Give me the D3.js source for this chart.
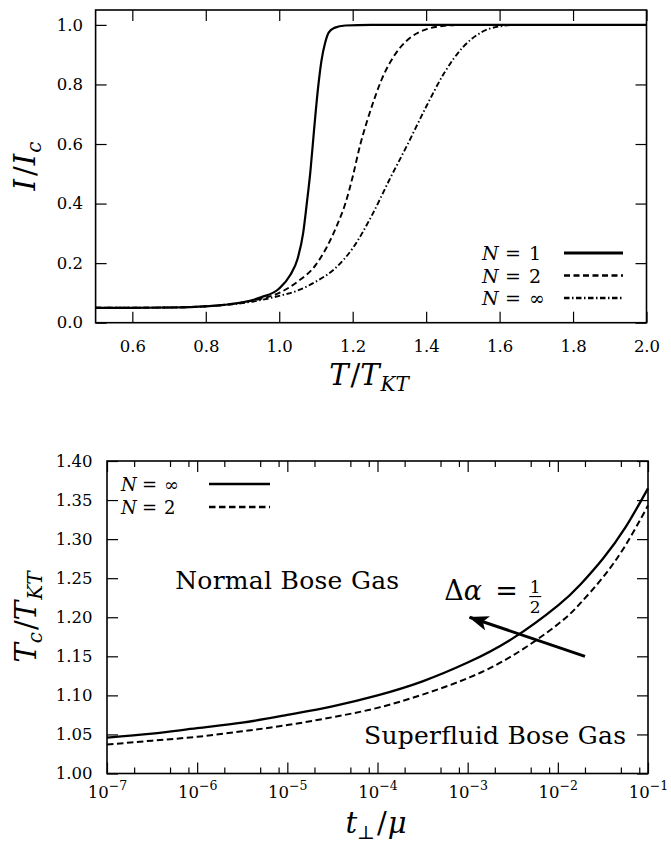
<!DOCTYPE html>
<html>
<head>
<meta charset="utf-8">
<script src="https://cdn.jsdelivr.net/npm/d3@7"></script>
<style>
  body { margin: 0; background: #fff; }
  svg text { font-family: "DejaVu Serif", "Liberation Serif", "Noto Serif", serif; fill: #000; }
</style>
</head>
<body>
<svg id="chart" width="671" height="846"></svg>
<script>

// ---- top panel data: I/Ic against T/TKT
const n1T = [0.5, 0.6, 0.7, 0.8, 0.85, 0.9, 0.95, 1.0, 1.03, 1.05, 1.065, 1.075, 1.085, 1.095, 1.105, 1.115, 1.125, 1.135, 1.15, 1.18, 1.25, 2.0];
const n1I = [0.050, 0.050, 0.051, 0.055, 0.060, 0.068, 0.085, 0.115, 0.16, 0.215, 0.30, 0.40, 0.51, 0.65, 0.78, 0.88, 0.94, 0.975, 0.99, 0.998, 1.0, 1.0];

const n2T = [0.5, 0.7, 0.8, 0.9, 0.95, 1.0, 1.05, 1.10, 1.13, 1.16, 1.18, 1.20, 1.22, 1.24, 1.26, 1.28, 1.30, 1.33, 1.36, 1.40, 1.45, 1.50, 2.0];
const n2I = [0.050, 0.051, 0.055, 0.068, 0.080, 0.100, 0.138, 0.195, 0.255, 0.335, 0.40, 0.49, 0.595, 0.68, 0.755, 0.82, 0.87, 0.925, 0.96, 0.985, 0.997, 1.0, 1.0];

const ninfT = [0.5, 0.7, 0.8, 0.9, 0.95, 1.0, 1.05, 1.10, 1.15, 1.20, 1.25, 1.30, 1.35, 1.40, 1.45, 1.50, 1.55, 1.60, 1.65, 2.0];
const ninfI = [0.050, 0.051, 0.055, 0.066, 0.076, 0.090, 0.108, 0.138, 0.180, 0.250, 0.355, 0.48, 0.60, 0.725, 0.84, 0.925, 0.975, 0.995, 1.0, 1.0];

const topXTicks = [0.6, 0.8, 1.0, 1.2, 1.4, 1.6, 1.8, 2.0];
const topYTicks = [0.0, 0.2, 0.4, 0.6, 0.8, 1.0];
const topLegend = ["1", "2", "∞"];

// ---- bottom panel data: Tc/TKT against t_perp/mu
const tPerp = [1e-7, 3.16e-7, 1e-6, 3.16e-6, 1e-5, 3.16e-5, 1e-4, 3.16e-4, 1e-3, 3.16e-3, 1e-2, 1.78e-2, 3.16e-2, 5.62e-2, 1e-1];
const tcInf = [1.046, 1.051, 1.058, 1.065, 1.075, 1.086, 1.100, 1.118, 1.142, 1.173, 1.215, 1.242, 1.275, 1.315, 1.365];
const tc2   = [1.037, 1.042, 1.047, 1.054, 1.062, 1.072, 1.084, 1.101, 1.122, 1.151, 1.191, 1.218, 1.251, 1.292, 1.343];

const botMajor = [1e-7, 1e-6, 1e-5, 1e-4, 1e-3, 1e-2, 1e-1];
const botMinorMult = [2, 5, 8];
const botYTicks = [1.00, 1.05, 1.10, 1.15, 1.20, 1.25, 1.30, 1.35, 1.40];
const botLegend = ["∞", "2"];

const serif = '"DejaVu Serif", "Liberation Serif", "Noto Serif", serif';
const svg = d3.select("#chart").attr("font-family", serif);

// scales
const xT = d3.scaleLinear().domain([0.5, 2.0]).range([95.6, 646.5]);
const yI = d3.scaleLinear().domain([0, 1.05]).range([322.7, 10]);
const xP = d3.scaleLog().domain([1e-7, 1e-1]).range([107, 648]);
const yC = d3.scaleLinear().domain([1.0, 1.4]).range([773.5, 461]);

const tickFont = 16.5;

function styleAxis(g) {
  g.select(".domain").remove();
  g.attr("font-family", serif).attr("font-size", tickFont);
  g.selectAll(".tick line").attr("stroke-width", 1.2);
}

function frame(x, y) {
  svg.append("rect")
    .attr("x", x.range()[0]).attr("y", y.range()[1])
    .attr("width", x.range()[1] - x.range()[0])
    .attr("height", y.range()[0] - y.range()[1])
    .attr("fill", "none").attr("stroke", "#000").attr("stroke-width", 1.6);
}

// "N = value" label with fixed glyph positions
function legendText(g, x, y, size, lab, gapEq, gapVal) {
  const t = g.append("text").attr("y", y).attr("font-size", size);
  t.append("tspan").attr("x", x).attr("font-style", "italic").text("N");
  t.append("tspan").attr("x", x + gapEq).text("=");
  t.append("tspan").attr("x", x + gapVal).text(lab);
}

// ================= top panel =================
const gTop = svg.append("g");

gTop.append("g").attr("transform", `translate(0,${yI.range()[0]})`)
  .call(d3.axisBottom(xT).tickValues(topXTicks).tickSize(-11).tickPadding(18).tickFormat(d3.format(".1f")))
  .call(styleAxis);
gTop.append("g").attr("transform", `translate(0,${yI.range()[1]})`)
  .call(d3.axisTop(xT).tickValues(topXTicks).tickSize(-11).tickFormat(""))
  .call(styleAxis);
gTop.append("g").attr("transform", `translate(${xT.range()[0]},0)`)
  .call(d3.axisLeft(yI).tickValues(topYTicks).tickSize(-11).tickPadding(12.5).tickFormat(d3.format(".1f")))
  .call(styleAxis);
gTop.append("g").attr("transform", `translate(${xT.range()[1]},0)`)
  .call(d3.axisRight(yI).tickValues(topYTicks).tickSize(-11).tickFormat(""))
  .call(styleAxis);

const lineTop = d3.line().x(d => xT(d[0])).y(d => yI(d[1])).curve(d3.curveMonotoneX);
const topSeries = [
  {T: n1T, I: n1I, dash: null, w: 2.2},
  {T: n2T, I: n2I, dash: "6,3.5", w: 1.9},
  {T: ninfT, I: ninfI, dash: "5.5,2.5,1.5,2.5", w: 1.9}
];
topSeries.forEach(s => {
  gTop.append("path")
    .datum(d3.zip(s.T, s.I))
    .attr("d", lineTop)
    .attr("fill", "none").attr("stroke", "#000")
    .attr("stroke-width", s.w)
    .attr("stroke-dasharray", s.dash);
});
frame(xT, yI);

// legend (top)
topLegend.forEach((lab, i) => {
  const y = 253 + i * 22.5;
  legendText(gTop, 482, y + 7, 19, lab, 23, 47);
  gTop.append("line")
    .attr("x1", 564).attr("x2", 623).attr("y1", y).attr("y2", y)
    .attr("stroke", "#000").attr("stroke-width", topSeries[i].w + 0.6)
    .attr("stroke-dasharray", topSeries[i].dash);
});

// axis titles (top)
const xtTop = svg.append("text").attr("x", 369).attr("y", 385).attr("text-anchor", "middle").attr("font-size", 29);
xtTop.append("tspan").attr("font-style", "italic").text("T");
xtTop.append("tspan").attr("dx", 2).text("/");
xtTop.append("tspan").attr("font-style", "italic").text("T");
xtTop.append("tspan").attr("font-style", "italic").attr("font-size", 20).attr("dy", 6).attr("dx", 1).text("KT");

const ytTop = svg.append("text").attr("transform", "translate(35,166) rotate(-90)")
  .attr("text-anchor", "middle").attr("font-size", 29);
ytTop.append("tspan").attr("font-style", "italic").text("I");
ytTop.append("tspan").attr("dx", 3).text("/");
ytTop.append("tspan").attr("font-style", "italic").attr("dx", 1).text("I");
ytTop.append("tspan").attr("font-style", "italic").attr("font-size", 20).attr("dy", 6).attr("dx", 1).text("c");

// ================= bottom panel =================
const gBot = svg.append("g");
const minorTicks = botMajor.slice(0, -1).flatMap(d => botMinorMult.map(m => d * m));
const supLabel = d => "−" + Math.abs(Math.round(Math.log10(d)));

gBot.append("g").attr("transform", `translate(0,${yC.range()[0]})`)
  .call(d3.axisBottom(xP).tickValues(botMajor).tickSize(-11).tickPadding(10).tickFormat(""))
  .call(styleAxis)
  .call(g => g.selectAll(".tick text").each(function(d) {
    const t = d3.select(this).attr("dy", "0.88em");
    t.append("tspan").text("10");
    t.append("tspan").attr("font-size", 12.5).attr("dy", -8).text(supLabel(d));
  }));
gBot.append("g").attr("transform", `translate(0,${yC.range()[0]})`)
  .call(d3.axisBottom(xP).tickValues(minorTicks).tickSize(-6).tickFormat(""))
  .call(styleAxis);
gBot.append("g").attr("transform", `translate(0,${yC.range()[1]})`)
  .call(d3.axisTop(xP).tickValues(botMajor).tickSize(-11).tickFormat(""))
  .call(styleAxis);
gBot.append("g").attr("transform", `translate(0,${yC.range()[1]})`)
  .call(d3.axisTop(xP).tickValues(minorTicks).tickSize(-6).tickFormat(""))
  .call(styleAxis);
gBot.append("g").attr("transform", `translate(${xP.range()[0]},0)`)
  .call(d3.axisLeft(yC).tickValues(botYTicks).tickSize(-11).tickPadding(14.5).tickFormat(d3.format(".2f")))
  .call(styleAxis);
gBot.append("g").attr("transform", `translate(${xP.range()[1]},0)`)
  .call(d3.axisRight(yC).tickValues(botYTicks).tickSize(-11).tickFormat(""))
  .call(styleAxis);

const lineBot = d3.line().x(d => xP(d[0])).y(d => yC(d[1])).curve(d3.curveNatural);
const botSeries = [
  {v: tcInf, dash: null, w: 2.3},
  {v: tc2, dash: "6.5,3.5", w: 2.0}
];
botSeries.forEach(s => {
  gBot.append("path")
    .datum(d3.zip(tPerp, s.v))
    .attr("d", lineBot)
    .attr("fill", "none").attr("stroke", "#000")
    .attr("stroke-width", s.w)
    .attr("stroke-dasharray", s.dash);
});
frame(xP, yC);

// legend (bottom)
botLegend.forEach((lab, i) => {
  const y = 484 + i * 23;
  legendText(gBot, 121, y + 6.5, 18, lab, 21, 43);
  gBot.append("line")
    .attr("x1", 209).attr("x2", 270).attr("y1", y).attr("y2", y)
    .attr("stroke", "#000").attr("stroke-width", botSeries[i].w + 0.4)
    .attr("stroke-dasharray", botSeries[i].dash);
});

// annotations (bottom)
gBot.append("text").attr("x", xP(5.7e-7)).attr("y", yC(1.236)).attr("font-size", 25)
  .attr("textLength", 224).attr("lengthAdjust", "spacing")
  .text("Normal Bose Gas");
gBot.append("text").attr("x", xP(0.057) - 262).attr("y", yC(1.038)).attr("font-size", 25)
  .attr("textLength", 262).attr("lengthAdjust", "spacing")
  .text("Superfluid Bose Gas");

const ax = xP(5.5e-4), ay = yC(1.222);
const da = gBot.append("text").attr("y", ay).attr("font-size", 27);
da.append("tspan").attr("x", ax).text("Δ");
da.append("tspan").attr("font-style", "italic").text("α");
da.append("tspan").attr("x", ax + 51).text("=");
gBot.append("text").attr("x", ax + 91).attr("y", ay - 7.5).attr("font-size", 17)
  .attr("text-anchor", "middle").text("1");
gBot.append("text").attr("x", ax + 91).attr("y", ay + 13).attr("font-size", 17)
  .attr("text-anchor", "middle").text("2");
gBot.append("line").attr("x1", ax + 85).attr("x2", ax + 97)
  .attr("y1", ay - 3.5).attr("y2", ay - 3.5)
  .attr("stroke", "#000").attr("stroke-width", 1.1);

svg.append("defs").append("marker")
  .attr("id", "head").attr("markerUnits", "userSpaceOnUse")
  .attr("viewBox", "0 0 20 15").attr("refX", 19).attr("refY", 7.5)
  .attr("markerWidth", 20).attr("markerHeight", 15).attr("orient", "auto")
  .append("path").attr("d", "M0,0 L20,7.5 L0,15 L5,7.5 Z").attr("fill", "#000");
gBot.append("line")
  .attr("x1", xP(2e-2)).attr("y1", yC(1.15))
  .attr("x2", xP(1.05e-3)).attr("y2", yC(1.2))
  .attr("stroke", "#000").attr("stroke-width", 3)
  .attr("marker-end", "url(#head)");

// axis titles (bottom)
const xtBot = svg.append("text").attr("x", 376).attr("y", 833).attr("text-anchor", "middle").attr("font-size", 29);
xtBot.append("tspan").attr("font-style", "italic").text("t");
xtBot.append("tspan").attr("font-size", 19).attr("dy", 6).text("⊥");
xtBot.append("tspan").attr("dy", -6).attr("dx", 2).text("/");
xtBot.append("tspan").attr("font-style", "italic").attr("dx", 1).text("μ");

const ytBot = svg.append("text").attr("transform", "translate(36,617) rotate(-90)")
  .attr("text-anchor", "middle").attr("font-size", 29);
ytBot.append("tspan").attr("font-style", "italic").text("T");
ytBot.append("tspan").attr("font-style", "italic").attr("font-size", 20).attr("dy", 6).text("c");
ytBot.append("tspan").attr("dy", -6).attr("dx", 2).text("/");
ytBot.append("tspan").attr("font-style", "italic").text("T");
ytBot.append("tspan").attr("font-style", "italic").attr("font-size", 20).attr("dy", 6).attr("dx", 1).text("KT");

</script>
</body>
</html>
